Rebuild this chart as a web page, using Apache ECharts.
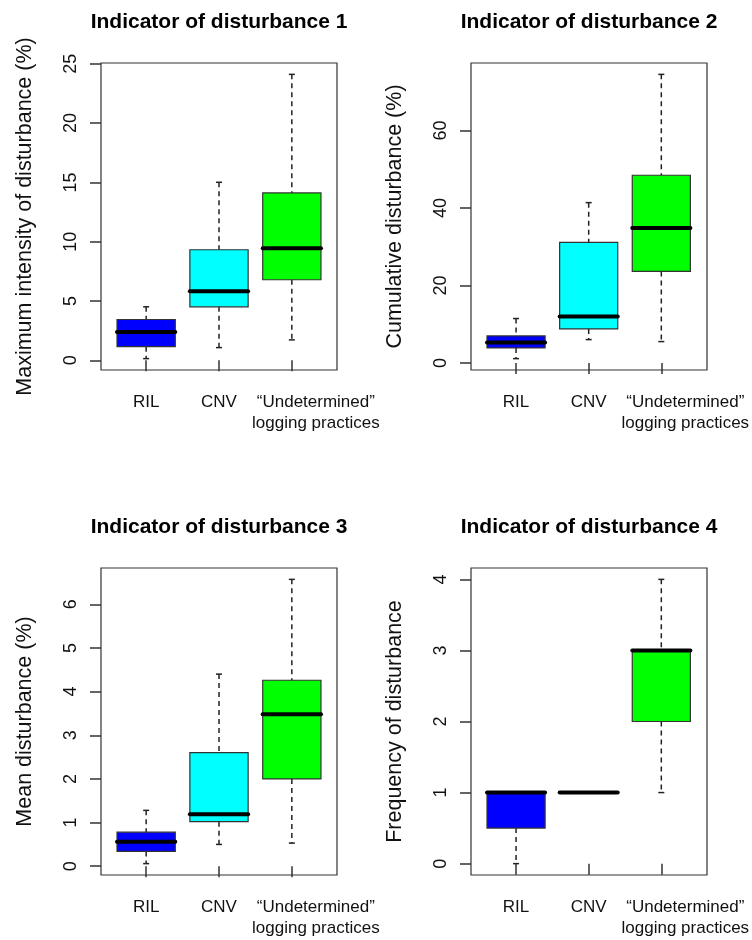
<!DOCTYPE html>
<html>
<head>
<meta charset="utf-8">
<script src="https://cdn.jsdelivr.net/npm/echarts@6/dist/echarts.min.js"></script>
<style>
  html, body { margin: 0; padding: 0; background: #fff; }
  #chart { width: 752px; height: 940px; }
</style>
</head>
<body>
<div id="chart"></div>
<script>
// categories shared by all four panels
const categories = ['RIL', 'CNV', '\u201cUndetermined\u201d\nlogging practices'];
const boxColors = ['#0000ff', '#00ffff', '#00ff00'];

const titles = [
  'Indicator of disturbance 1',
  'Indicator of disturbance 2',
  'Indicator of disturbance 3',
  'Indicator of disturbance 4'
];
const yNames = [
  'Maximum intensity of disturbance (%)',
  'Cumulative disturbance (%)',
  'Mean disturbance (%)',
  'Frequency of disturbance'
];

// [min, Q1, median, Q3, max] for RIL, CNV, Undetermined
const stats1 = [[0.14, 1.15, 2.39, 3.44, 4.51], [1.07, 4.51, 5.83, 9.32, 15.01], [1.72, 6.79, 9.44, 14.11, 24.11]];
const stats2 = [[1.12, 3.88, 5.26, 6.98, 11.47], [6.03, 8.79, 11.98, 31.12, 41.38], [5.52, 23.62, 34.83, 48.45, 74.48]];
const stats3 = [[0.06, 0.34, 0.56, 0.78, 1.28], [0.50, 1.02, 1.19, 2.60, 4.40], [0.53, 2.00, 3.48, 4.26, 6.57]];
const stats4 = [[0, 0.5, 1, 1, 1], [1, 1, 1, 1, 1], [1, 2, 3, 3, 4]];

const yTicks1 = [0, 5, 10, 15, 20, 25];
const yTicks2 = [0, 20, 40, 60];
const yTicks3 = [0, 1, 2, 3, 4, 5, 6];
const yTicks4 = [0, 1, 2, 3, 4];

const allStats = [stats1, stats2, stats3, stats4];
const allTicks = [yTicks1, yTicks2, yTicks3, yTicks4];

const FONT = '"Liberation Sans", Arial, sans-serif';

// plot frames (px); R pads x range 0.5..3.5 by 4%, so the
// category bands sit a little inside the frame
const frames = [
  { left: 101, top: 63, width: 236, height: 307 },
  { left: 471, top: 63, width: 236, height: 307 },
  { left: 101, top: 568, width: 236, height: 307 },
  { left: 471, top: 568, width: 236, height: 307 }
];
const inset = 236 * 0.12 / 3.24;

// R style 4% padding of the data range
function padRange(stats) {
  let lo = Infinity, hi = -Infinity;
  stats.forEach(s => { lo = Math.min(lo, s[0]); hi = Math.max(hi, s[4]); });
  const d = (hi - lo) * 0.04;
  return [lo - d, hi + d];
}

function renderBox(params, api) {
  const x = api.value(0);
  const lo = api.coord([x, api.value(1)]);
  const q1 = api.coord([x, api.value(2)]);
  const md = api.coord([x, api.value(3)]);
  const q3 = api.coord([x, api.value(4)]);
  const hi = api.coord([x, api.value(5)]);
  const half = api.size([1, 0])[0] * 0.4;
  const cx = lo[0];
  const cap = 3;
  const color = boxColors[params.dataIndex];
  const dash = { stroke: '#222', lineWidth: 1.5, lineDash: [5, 4] };
  const solid = { stroke: '#222', lineWidth: 1.5 };
  const children = [];
  if (hi[1] < q3[1] - 0.5) {
    children.push({ type: 'line', shape: { x1: cx, y1: hi[1], x2: cx, y2: q3[1] }, style: dash });
    children.push({ type: 'line', shape: { x1: cx - cap, y1: hi[1], x2: cx + cap, y2: hi[1] }, style: solid });
  }
  if (lo[1] > q1[1] + 0.5) {
    children.push({ type: 'line', shape: { x1: cx, y1: q1[1], x2: cx, y2: lo[1] }, style: dash });
    children.push({ type: 'line', shape: { x1: cx - cap, y1: lo[1], x2: cx + cap, y2: lo[1] }, style: solid });
  }
  children.push({
    type: 'rect',
    shape: { x: cx - half, y: q3[1], width: half * 2, height: q1[1] - q3[1] },
    style: { fill: color, stroke: '#333', lineWidth: 1.2 }
  });
  children.push({
    type: 'line',
    shape: { x1: cx - half, y1: md[1], x2: cx + half, y2: md[1] },
    style: { stroke: '#000', lineWidth: 4, lineCap: 'round' }
  });
  return { type: 'group', children: children };
}

// the two-line label sits to the right of its tick in the original
function catLabel(value, index) {
  if (value.indexOf('\n') < 0) return value;
  return value.split('\n').map(s => '{u|' + s + '}').join('\n');
}

const chart = echarts.init(document.getElementById('chart'), null, { renderer: 'canvas' });

// grids 0-3: plotting areas, grids 4-7: frames
const plotGrids = frames.map(f => ({
  left: f.left + inset, top: f.top, width: f.width - 2 * inset, height: f.height, show: false
}));
const frameGrids = frames.map(f => Object.assign({
  show: true, borderColor: '#333', borderWidth: 1.2, backgroundColor: 'transparent'
}, f));

const hiddenAxis = i => ({ type: 'value', gridIndex: i, show: false, splitLine: { show: false } });

const option = {
  backgroundColor: '#fff',
  animation: false,
  textStyle: { fontFamily: FONT },
  title: frames.map((f, i) => ({
    text: titles[i],
    left: f.left + f.width / 2,
    top: f.top - 51,
    textAlign: 'center',
    padding: 0,
    textStyle: { fontFamily: FONT, fontSize: 21, fontWeight: 'bold', color: '#000' }
  })),
  grid: plotGrids.concat(frameGrids),
  xAxis: frames.map((f, i) => ({
    type: 'category',
    gridIndex: i,
    data: categories,
    boundaryGap: true,
    splitLine: { show: false },
    axisLine: { show: false },
    axisTick: { show: true, length: 11, alignWithLabel: true, interval: 0, lineStyle: { color: '#333', width: 1.5 } },
    axisLabel: {
      interval: 0,
      hideOverlap: false,
      margin: 22,
      fontFamily: FONT,
      fontSize: 17,
      lineHeight: 21,
      color: '#111',
      formatter: catLabel,
      rich: {
        u: { fontFamily: FONT, fontSize: 17, lineHeight: 21, color: '#111', padding: [0, 0, 0, 48] }
      }
    }
  })).concat(frames.map((f, i) => hiddenAxis(i + 4))),
  yAxis: frames.map((f, i) => {
    const r = padRange(allStats[i]);
    return {
      type: 'value',
      gridIndex: i,
      min: r[0],
      max: r[1],
      offset: inset,
      name: yNames[i],
      nameLocation: 'middle',
      nameGap: 65,
      nameTextStyle: { fontFamily: FONT, fontSize: 21.5, color: '#111' },
      splitLine: { show: false },
      axisLine: { show: false },
      axisTick: { show: true, length: 11, customValues: allTicks[i], lineStyle: { color: '#333', width: 1.5 } },
      axisLabel: {
        customValues: allTicks[i],
        rotate: 90,
        margin: 21,
        fontFamily: FONT,
        fontSize: 18,
        color: '#111',
        formatter: v => String(Math.round(v))
      }
    };
  }).concat(frames.map((f, i) => hiddenAxis(i + 4))),
  series: allStats.map((stats, i) => ({
    type: 'custom',
    xAxisIndex: i,
    yAxisIndex: i,
    renderItem: renderBox,
    encode: { x: 0, y: [1, 2, 3, 4, 5] },
    data: stats.map((s, k) => [k].concat(s))
  }))
};

chart.setOption(option);
</script>
</body>
</html>
